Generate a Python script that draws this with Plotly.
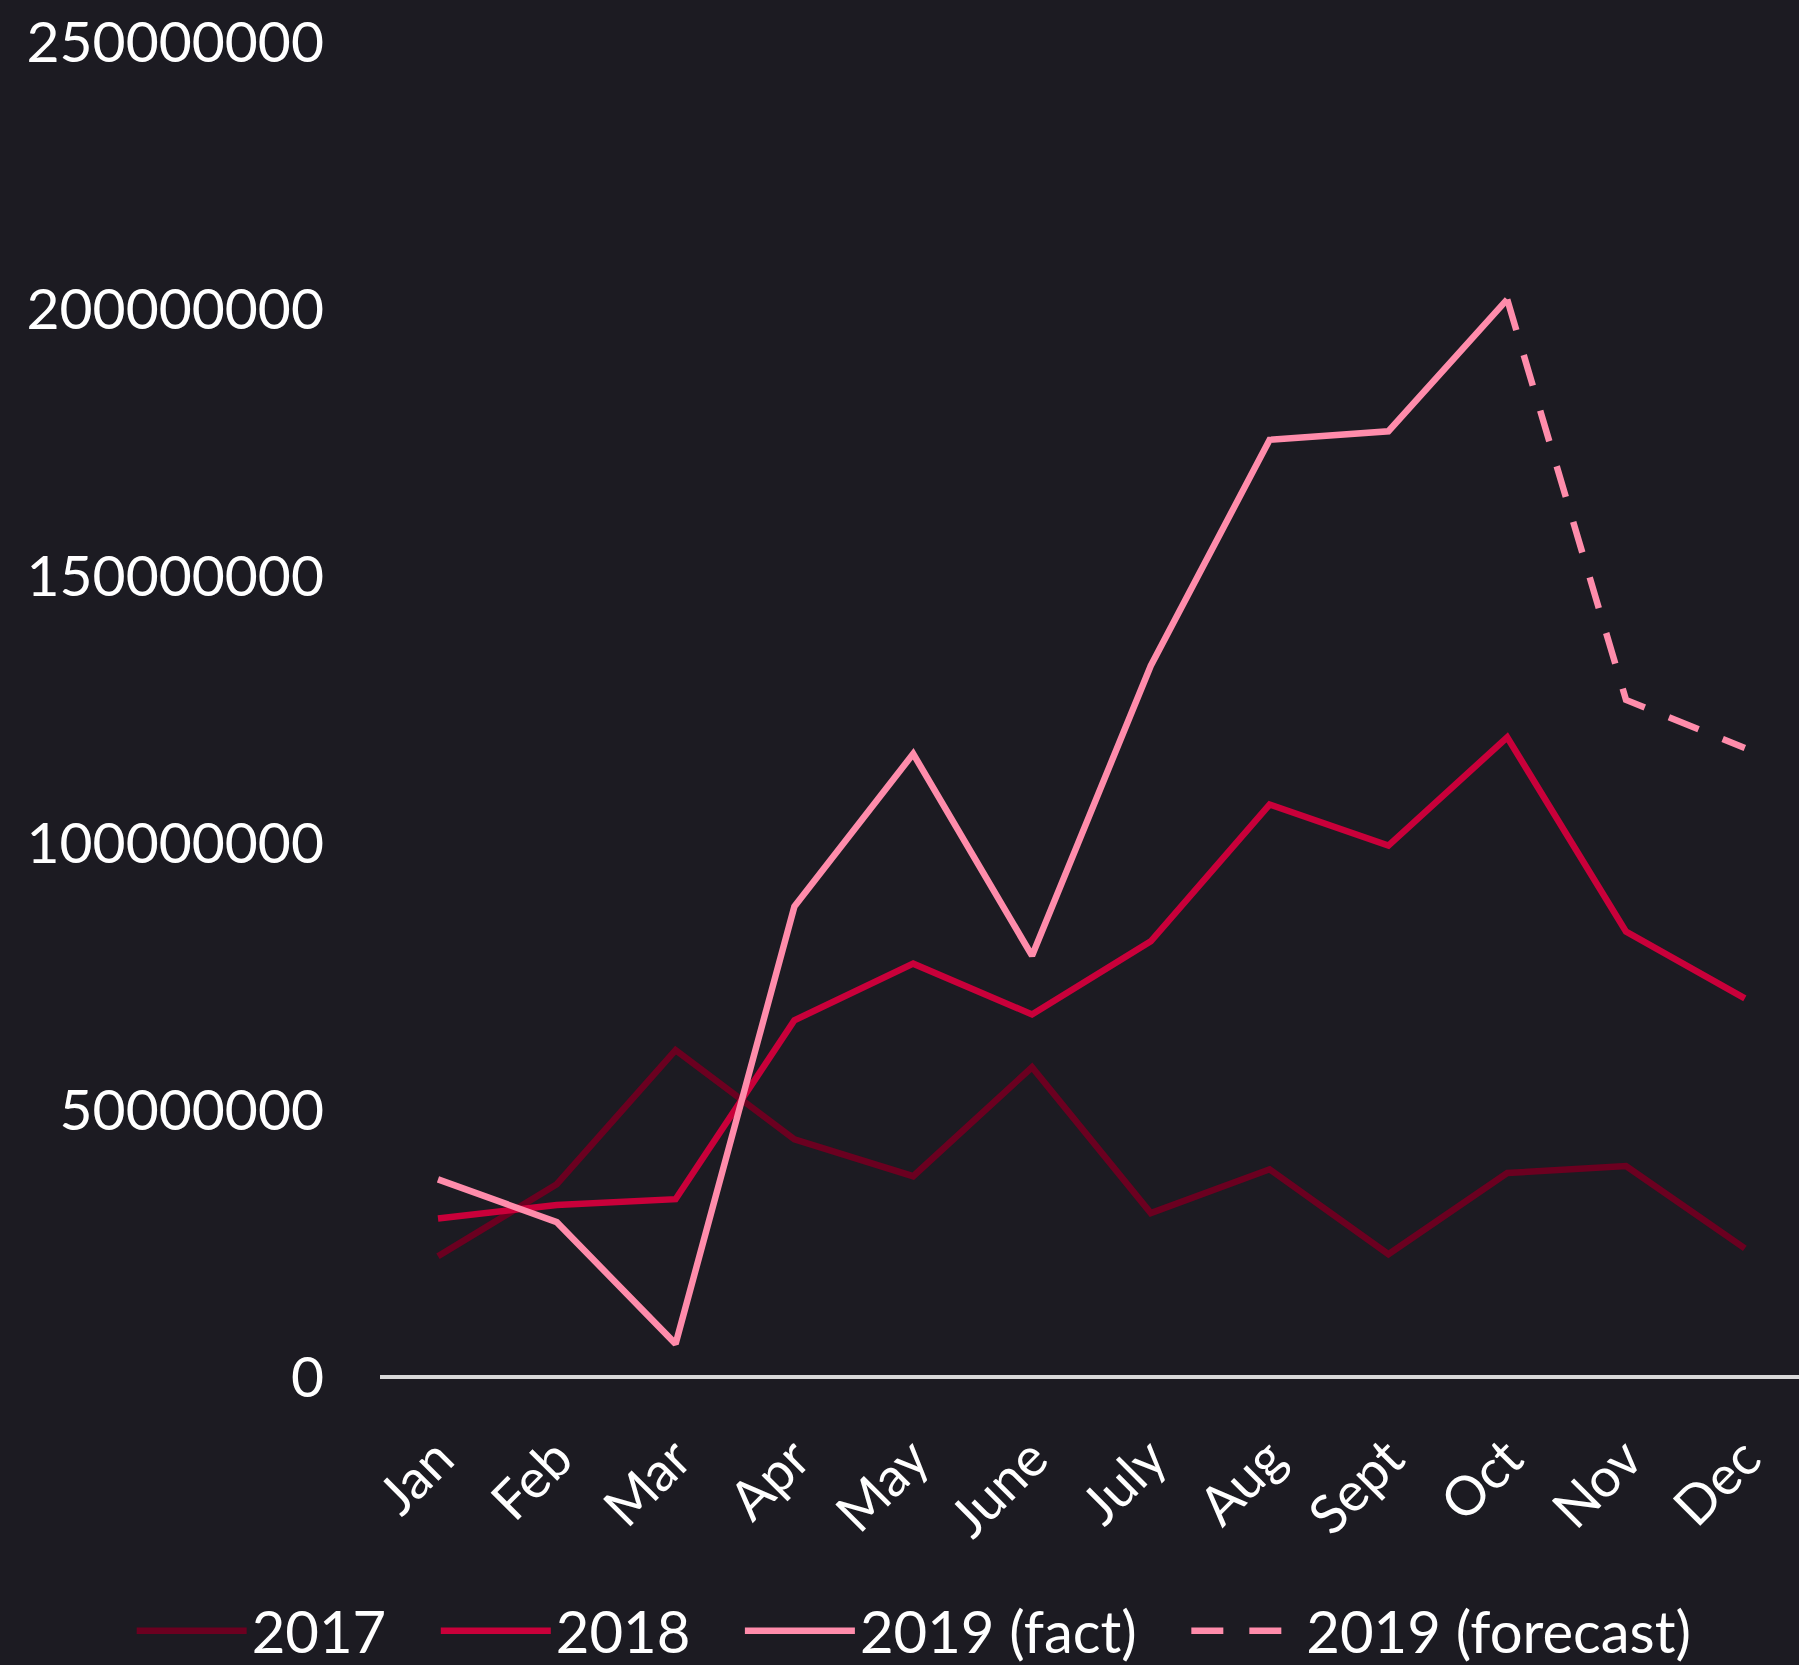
import plotly.graph_objects as go

months = ["Jan", "Feb", "Mar", "Apr", "May", "June", "July", "Aug", "Sept", "Oct", "Nov", "Dec"]
s2017 = [22.6e6, 36.1e6, 61.2e6, 44.5e6, 37.6e6, 58.0e6, 30.7e6, 38.9e6, 23.0e6, 38.2e6, 39.5e6, 24.1e6]
s2018 = [29.7e6, 32.2e6, 33.3e6, 66.8e6, 77.4e6, 67.9e6, 81.6e6, 107.2e6, 99.5e6, 119.8e6, 83.4e6, 70.9e6]
s2019_fact = [37.0e6, 29.0e6, 6.2e6, 88.1e6, 116.7e6, 78.9e6, 133.2e6, 175.5e6, 177.1e6, 201.8e6]
s2019_forecast = [None] * 9 + [201.8e6, 126.8e6, 117.8e6]
y_ticks = [0, 50000000, 100000000, 150000000, 200000000, 250000000]
series_names = ["2017", "2018", "2019 (fact)", "2019 (forecast)"]

BG = "#1c1b22"
FONT = "Lato"
PAD = "\u00a0" * 3

fig = go.Figure()
fig.add_trace(go.Scatter(x=months, y=s2017, mode="lines", name=series_names[0] + PAD,
                         line=dict(color="#6b0020", width=6.5)))
fig.add_trace(go.Scatter(x=months, y=s2018, mode="lines", name=series_names[1] + PAD,
                         line=dict(color="#c9003a", width=6.5)))
fig.add_trace(go.Scatter(x=months[:len(s2019_fact)], y=s2019_fact, mode="lines",
                         name=series_names[2] + PAD,
                         line=dict(color="#ff8cab", width=6.5)))
fig.add_trace(go.Scatter(x=months, y=s2019_forecast, mode="lines", name=series_names[3],
                         line=dict(color="#ff8cab", width=6.5, dash="32px,26px")))

fig.update_layout(
    width=1799, height=1665,
    paper_bgcolor=BG, plot_bgcolor=BG,
    margin=dict(l=380, r=0, t=42, b=288, autoexpand=False),
    font=dict(family=FONT, color="white", size=56),
    showlegend=True,
    legend=dict(orientation="h", x=-0.175, xanchor="left",
                y=-0.1903, yanchor="middle",
                font=dict(size=58, color="white"), itemwidth=110, bgcolor="rgba(0,0,0,0)",
                traceorder="normal"),
    xaxis=dict(type="category", range=[-0.488, 11.456], showgrid=False, zeroline=False,
               showline=False, tickangle=-45, tickfont=dict(size=54, color="white"),
               ticks="", ticklabelstandoff=38),
    yaxis=dict(range=[0, 250000000], tickvals=y_ticks, ticktext=[str(v) for v in y_ticks],
               showgrid=False, zeroline=True, zerolinecolor="#d9d9d9", zerolinewidth=4,
               showline=False, tickfont=dict(size=57, color="white"), ticks="",
               ticklabelstandoff=55),
)

fig.write_html("out.html")
